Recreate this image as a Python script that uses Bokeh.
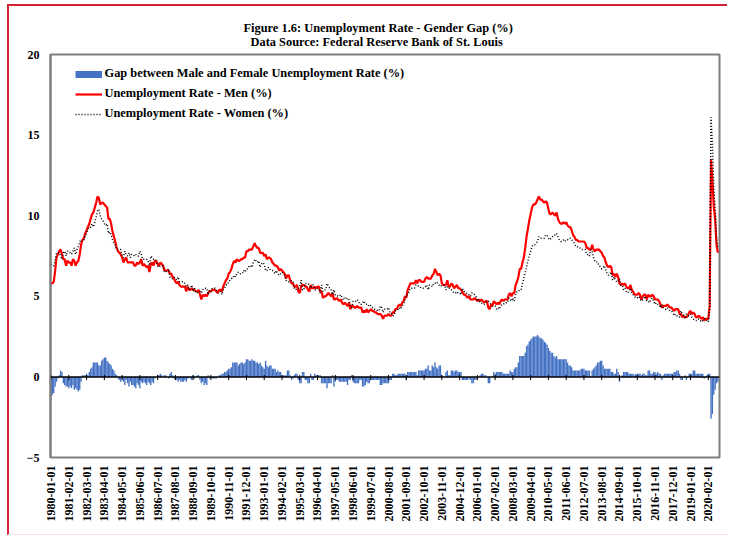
import numpy as np
import pandas as pd
from bokeh.plotting import figure
from bokeh.models import Range1d, FixedTicker, Span, Legend, LegendItem, Title
from bokeh.embed import file_html
from bokeh.resources import INLINE

FONT = "Liberation Serif"

# Monthly unemployment rate, men (%), 1980-01 .. 2020-09
men = [
    5.8, 5.8, 5.9, 6.6, 7.4, 7.6, 7.8, 7.9, 7.6, 7.3, 7.3, 6.9,        # 1980
    7.2, 7.1, 7.1, 6.9, 7.3, 7.2, 6.9, 7.1, 7.2, 7.6, 8.2, 8.5,        # 1981
    8.6, 8.9, 9.1, 9.3, 9.5, 9.8, 10.1, 10.2, 10.5, 10.8, 11.2, 11.1,  # 1982
    10.7, 10.8, 10.8, 10.7, 10.6, 10.5, 9.8, 9.8, 9.5, 9.0, 8.7, 8.4,  # 1983
    8.0, 7.8, 7.7, 7.6, 7.4, 7.1, 7.3, 7.4, 7.1, 7.1, 7.1, 7.1,        # 1984
    7.1, 6.9, 6.9, 7.1, 7.0, 7.1, 7.3, 6.9, 7.0, 6.9, 6.8, 6.9,        # 1985
    6.5, 7.0, 7.1, 6.9, 7.2, 7.2, 7.0, 6.9, 7.1, 7.0, 6.9, 6.6,        # 1986
    6.6, 6.6, 6.6, 6.4, 6.4, 6.2, 6.1, 5.9, 5.8, 5.9, 5.7, 5.6,        # 1987
    5.6, 5.6, 5.6, 5.3, 5.6, 5.4, 5.4, 5.5, 5.4, 5.4, 5.3, 5.3,        # 1988
    5.4, 5.1, 4.8, 5.1, 5.0, 5.1, 5.0, 5.2, 5.3, 5.3, 5.4, 5.4,        # 1989
    5.4, 5.3, 5.2, 5.4, 5.4, 5.3, 5.6, 5.8, 6.0, 6.1, 6.4, 6.5,        # 1990
    6.7, 7.0, 7.2, 7.1, 7.3, 7.2, 7.2, 7.3, 7.3, 7.4, 7.4, 7.8,        # 1991
    7.8, 7.9, 7.9, 7.9, 8.1, 8.3, 8.1, 8.0, 8.0, 7.7, 7.7, 7.7,        # 1992
    7.5, 7.6, 7.3, 7.4, 7.4, 7.3, 7.1, 7.0, 6.9, 6.9, 6.8, 6.6,        # 1993
    6.7, 6.6, 6.5, 6.4, 6.1, 6.3, 6.3, 6.0, 5.8, 5.8, 5.6, 5.6,        # 1994
    5.7, 5.3, 5.2, 5.6, 5.7, 5.7, 5.6, 5.6, 5.4, 5.3, 5.7, 5.5,        # 1995
    5.5, 5.6, 5.5, 5.6, 5.6, 5.3, 5.3, 4.9, 5.0, 5.0, 5.1, 5.2,        # 1996
    5.1, 5.0, 5.2, 4.8, 4.8, 4.9, 4.8, 4.7, 4.8, 4.6, 4.5, 4.6,        # 1997
    4.5, 4.4, 4.6, 4.2, 4.4, 4.4, 4.3, 4.3, 4.4, 4.3, 4.3, 4.3,        # 1998
    4.0, 4.1, 4.0, 4.2, 4.0, 4.1, 4.2, 4.1, 4.1, 4.0, 4.0, 3.9,        # 1999
    3.9, 3.9, 3.8, 3.6, 3.8, 3.8, 3.8, 3.9, 3.8, 3.8, 4.0, 4.0,        # 2000
    4.2, 4.2, 4.4, 4.5, 4.4, 4.6, 4.7, 5.0, 4.9, 5.4, 5.6, 5.8,        # 2001
    5.8, 5.8, 5.8, 6.0, 5.8, 6.0, 6.0, 5.9, 5.9, 5.9, 6.1, 6.2,        # 2002
    6.1, 6.1, 6.1, 6.3, 6.4, 6.7, 6.5, 6.3, 6.4, 6.3, 5.8, 5.7,        # 2003
    5.7, 5.7, 6.0, 5.6, 5.6, 5.8, 5.7, 5.5, 5.6, 5.7, 5.5, 5.5,        # 2004
    5.4, 5.3, 5.1, 5.1, 5.0, 4.9, 5.0, 4.8, 4.8, 4.8, 4.9, 4.8,        # 2005
    4.7, 4.8, 4.7, 4.8, 4.7, 4.6, 4.7, 4.7, 4.3, 4.2, 4.5, 4.4,        # 2006
    4.7, 4.6, 4.5, 4.6, 4.5, 4.7, 4.8, 4.7, 4.8, 4.8, 4.8, 5.1,        # 2007
    5.2, 5.0, 5.2, 5.2, 5.7, 5.9, 6.2, 6.7, 6.7, 7.1, 7.4, 8.0,        # 2008
    8.7, 9.2, 9.7, 10.1, 10.5, 10.7, 10.7, 10.8, 11.0, 11.2, 11.0, 11.0,  # 2009
    10.9, 10.8, 10.9, 10.8, 10.4, 10.1, 10.1, 10.2, 10.1, 10.0, 10.2, 9.8,  # 2010
    9.6, 9.5, 9.5, 9.6, 9.5, 9.6, 9.4, 9.3, 9.3, 9.1, 8.8, 8.7,        # 2011
    8.5, 8.5, 8.4, 8.4, 8.4, 8.4, 8.4, 8.3, 8.0, 8.0, 7.9, 7.9,        # 2012
    8.2, 7.9, 7.8, 7.9, 7.9, 7.9, 7.8, 7.7, 7.5, 7.4, 7.1, 6.9,        # 2013
    6.8, 6.9, 6.8, 6.3, 6.4, 6.2, 6.4, 6.2, 5.8, 5.7, 5.8, 5.7,        # 2014
    5.8, 5.6, 5.5, 5.5, 5.7, 5.4, 5.3, 5.1, 5.1, 5.1, 5.2, 5.1,        # 2015
    4.8, 5.0, 5.1, 5.1, 4.8, 5.1, 5.0, 5.0, 5.1, 5.0, 4.8, 4.8,        # 2016
    4.8, 4.7, 4.5, 4.3, 4.4, 4.4, 4.4, 4.5, 4.4, 4.3, 4.3, 4.2,        # 2017
    4.1, 4.2, 4.2, 4.2, 3.9, 3.9, 3.7, 3.8, 3.7, 3.7, 3.8, 4.0,        # 2018
    4.1, 3.9, 4.0, 3.9, 3.7, 3.7, 3.8, 3.7, 3.6, 3.7, 3.5, 3.6,        # 2019
    3.6, 3.6, 4.4, 13.5, 12.2, 10.6, 9.8, 8.2, 7.7,                   # 2020
]

# Monthly unemployment rate, women (%), 1980-01 .. 2020-09
women = [
    7.0, 6.9, 6.9, 7.2, 7.7, 7.7, 7.7, 7.5, 7.3, 7.7, 7.8, 7.5,        # 1980
    7.8, 7.8, 7.7, 7.6, 7.8, 8.0, 7.6, 7.9, 8.1, 8.4, 8.5, 8.4,        # 1981
    8.5, 8.8, 8.9, 9.2, 9.2, 9.3, 9.5, 9.3, 9.6, 9.9, 10.3, 10.4,      # 1982
    10.0, 9.8, 9.7, 9.5, 9.4, 9.5, 8.9, 9.0, 8.8, 8.5, 8.3, 8.2,       # 1983
    7.9, 7.9, 7.9, 7.9, 7.5, 7.4, 7.8, 7.6, 7.5, 7.7, 7.4, 7.6,        # 1984
    7.6, 7.5, 7.6, 7.5, 7.5, 7.8, 7.6, 7.3, 7.3, 7.3, 7.3, 7.2,        # 1985
    6.9, 7.5, 7.4, 7.3, 7.3, 7.2, 6.9, 6.8, 6.9, 6.9, 6.9, 6.5,        # 1986
    6.5, 6.6, 6.7, 6.2, 6.1, 6.1, 6.2, 6.1, 6.0, 6.2, 5.9, 5.9,        # 1987
    5.9, 5.9, 5.8, 5.6, 5.7, 5.4, 5.5, 5.7, 5.3, 5.5, 5.3, 5.2,        # 1988
    5.3, 5.3, 5.2, 5.4, 5.5, 5.5, 5.5, 5.1, 5.4, 5.3, 5.5, 5.5,        # 1989
    5.5, 5.4, 5.2, 5.3, 5.3, 5.1, 5.4, 5.5, 5.7, 5.7, 5.9, 6.0,        # 1990
    6.1, 6.1, 6.3, 6.2, 6.4, 6.5, 6.4, 6.4, 6.4, 6.6, 6.5, 6.7,        # 1991
    6.7, 6.9, 6.9, 6.8, 7.1, 7.3, 7.2, 7.1, 7.2, 6.8, 7.0, 7.1,        # 1992
    7.0, 6.6, 6.6, 6.8, 6.7, 6.6, 6.6, 6.5, 6.4, 6.6, 6.4, 6.3,        # 1993
    6.4, 6.5, 6.4, 6.3, 6.0, 5.9, 5.9, 5.9, 6.0, 5.9, 5.5, 5.4,        # 1994
    5.5, 5.5, 5.6, 6.0, 5.4, 5.4, 5.8, 5.8, 5.8, 5.7, 5.5, 5.7,        # 1995
    5.7, 5.4, 5.4, 5.5, 5.5, 5.2, 5.7, 5.3, 5.4, 5.4, 5.8, 5.6,        # 1996
    5.5, 5.4, 5.1, 5.4, 5.1, 5.1, 5.0, 5.0, 5.1, 4.9, 4.8, 4.9,        # 1997
    4.8, 4.9, 4.8, 4.4, 4.3, 4.7, 4.7, 4.7, 4.8, 4.7, 4.5, 4.5,        # 1998
    4.6, 4.7, 4.5, 4.5, 4.4, 4.5, 4.4, 4.3, 4.3, 4.2, 4.2, 4.1,        # 1999
    4.1, 4.4, 4.3, 4.0, 4.2, 4.2, 4.2, 4.3, 4.0, 4.0, 3.8, 3.8,        # 2000
    4.1, 4.1, 4.2, 4.3, 4.2, 4.4, 4.5, 4.8, 5.1, 5.1, 5.3, 5.5,        # 2001
    5.5, 5.5, 5.5, 5.7, 5.7, 5.6, 5.6, 5.5, 5.5, 5.5, 5.6, 5.7,        # 2002
    5.4, 5.7, 5.7, 5.6, 5.8, 5.8, 5.9, 5.8, 5.7, 5.6, 5.7, 5.7,        # 2003
    5.7, 5.4, 5.6, 5.5, 5.5, 5.4, 5.3, 5.2, 5.2, 5.3, 5.2, 5.2,        # 2004
    5.1, 5.5, 5.3, 5.3, 5.2, 5.1, 5.1, 5.0, 5.2, 5.2, 5.1, 5.0,        # 2005
    4.7, 4.8, 4.6, 4.6, 4.5, 4.5, 4.6, 4.7, 4.7, 4.6, 4.5, 4.4,        # 2006
    4.4, 4.4, 4.2, 4.3, 4.2, 4.4, 4.5, 4.5, 4.6, 4.6, 4.6, 4.9,        # 2007
    4.8, 4.7, 4.9, 4.7, 5.1, 5.3, 5.3, 5.4, 5.4, 5.8, 6.1, 6.5,        # 2008
    6.8, 7.2, 7.5, 7.8, 8.1, 8.2, 8.2, 8.3, 8.4, 8.7, 8.6, 8.6,        # 2009
    8.6, 8.6, 8.8, 8.8, 8.6, 8.5, 8.6, 8.7, 8.8, 8.8, 8.9, 8.7,        # 2010
    8.5, 8.4, 8.4, 8.5, 8.4, 8.5, 8.5, 8.6, 8.6, 8.5, 8.4, 8.3,        # 2011
    8.1, 8.1, 8.0, 8.0, 7.9, 7.9, 7.9, 7.9, 7.6, 7.6, 7.5, 7.9,        # 2012
    7.8, 7.4, 7.2, 7.2, 7.0, 7.0, 6.8, 6.7, 6.8, 6.9, 6.6, 6.4,        # 2013
    6.3, 6.4, 6.5, 6.0, 6.2, 6.0, 5.9, 5.9, 6.1, 5.7, 5.7, 5.4,        # 2014
    5.5, 5.3, 5.2, 5.3, 5.5, 5.2, 5.1, 5.0, 4.9, 4.9, 5.0, 4.9,        # 2015
    4.7, 4.8, 4.9, 5.0, 4.7, 4.7, 4.6, 4.8, 4.9, 4.7, 4.5, 4.6,        # 2016
    4.5, 4.5, 4.3, 4.5, 4.3, 4.2, 4.2, 4.3, 4.2, 4.1, 4.1, 4.0,        # 2017
    3.8, 3.9, 3.8, 3.8, 3.7, 4.1, 3.9, 3.8, 3.6, 3.9, 3.8, 3.8,        # 2018
    3.9, 3.7, 3.6, 3.5, 3.5, 3.5, 3.6, 3.5, 3.4, 3.5, 3.6, 3.6,        # 2019
    3.5, 3.4, 4.2, 16.1, 14.5, 11.7, 10.6, 8.6, 8.0,                  # 2020
]

# Monthly dates (categories) and the gap series (men - women)
months = list(pd.date_range("1980-01-01", periods=len(men), freq="MS").strftime("%Y-%m-%d"))
idx = list(range(len(months)))
gap = [round(m - w, 1) for m, w in zip(men, women)]

tick_step = 13
tick_idx = idx[::tick_step]
tick_labels = [months[i] for i in tick_idx]

y_ticks = [-5, 0, 5, 10, 15, 20]

title_line1 = "Figure 1.6: Unemployment Rate - Gender Gap (%)"
title_line2 = "Data Source: Federal Reserve Bank of St. Louis"
legend_labels = ["Gap between Male and Female Unemployment Rate (%)",
                 "Unemployment Rate - Men (%)",
                 "Unemployment Rate - Women (%)"]

BLUE = "#4472C4"
RED = "#FF0000"
FRAME = "#7F7F7F"
BORDER = "#D42135"

p = figure(width=720, height=531, x_range=Range1d(-0.4, 489.2), y_range=Range1d(-5, 20),
           output_backend="svg", toolbar_location=None, title=None,
           min_border_left=41, min_border_right=10, min_border_top=48, min_border_bottom=80)
p.styles = {"margin-top": "4px", "margin-left": "7px",
            "border-top": f"2px solid {BORDER}", "border-left": f"2px solid {BORDER}",
            "border-bottom": "1px solid #FBE1E5"}
p.background_fill_color = "white"
p.border_fill_color = "white"
p.outline_line_color = FRAME
p.outline_line_width = 2
p.xgrid.grid_line_color = None
p.ygrid.grid_line_color = None

bars = p.vbar(x=idx, top=gap, bottom=0, width=1.0, fill_color=BLUE, line_color=None)
men_r = p.line(idx, men, line_color=RED, line_width=2.2)
women_r = p.line(idx, women, line_color="black", line_width=1.5, line_dash="1 2")
# one-point line: draws nothing on the plot, only supplies the thin legend key of the bars
gap_key = p.line(x=idx[:1], y=gap[:1], line_color=BLUE, line_width=7)

p.add_layout(Span(location=0, dimension="width", line_color="black", line_width=1.5))
p.segment(x0=tick_idx, y0=-0.2, x1=tick_idx, y1=0.12, line_color="black", line_width=1)

# x axis (labels at the bottom)
p.xaxis.ticker = FixedTicker(ticks=tick_idx)
p.xaxis.major_label_overrides = {i: lab for i, lab in zip(tick_idx, tick_labels)}
p.xaxis.major_label_orientation = np.pi / 2
p.xaxis.axis_line_color = None
p.xaxis.major_tick_line_color = None
p.xaxis.minor_tick_line_color = None
p.xaxis.major_tick_out = 0
p.xaxis.major_tick_in = 0
p.xaxis.major_label_standoff = 8
p.xaxis.major_label_text_font = FONT
p.xaxis.major_label_text_font_style = "bold"
p.xaxis.major_label_text_font_size = "12px"
p.xaxis.major_label_text_color = "black"

# y axis
p.yaxis.ticker = FixedTicker(ticks=y_ticks)
p.yaxis.axis_line_color = FRAME
p.yaxis.axis_line_width = 2
p.yaxis.major_tick_line_color = None
p.yaxis.minor_tick_line_color = None
p.yaxis.major_tick_out = 0
p.yaxis.major_tick_in = 0
p.yaxis.major_label_standoff = 11
p.yaxis.major_label_text_font = FONT
p.yaxis.major_label_text_font_style = "bold"
p.yaxis.major_label_text_font_size = "12px"
p.yaxis.major_label_text_color = "black"

# titles
t2 = Title(text=title_line2, align="left", offset=200, standoff=12, text_font=FONT,
           text_font_style="bold", text_font_size="12.4px", text_color="black")
t1 = Title(text=title_line1, align="left", offset=193, standoff=-16, text_font=FONT,
           text_font_style="bold", text_font_size="12.4px", text_color="black")
p.add_layout(t2, "above")
p.add_layout(t1, "above")

legend = Legend(items=[LegendItem(label=legend_labels[0], renderers=[gap_key]),
                       LegendItem(label=legend_labels[1], renderers=[men_r]),
                       LegendItem(label=legend_labels[2], renderers=[women_r])],
                location=(24.5, 333.5), glyph_width=27, glyph_height=20, label_height=20,
                spacing=0, padding=0, margin=0, label_standoff=3,
                label_text_font=FONT, label_text_font_style="bold",
                label_text_font_size="12.4px", label_text_color="black",
                border_line_color=None, background_fill_alpha=0)
p.add_layout(legend)

with open("out.html", "w") as f:
    f.write(file_html(p, INLINE, title="Unemployment Rate - Gender Gap"))
